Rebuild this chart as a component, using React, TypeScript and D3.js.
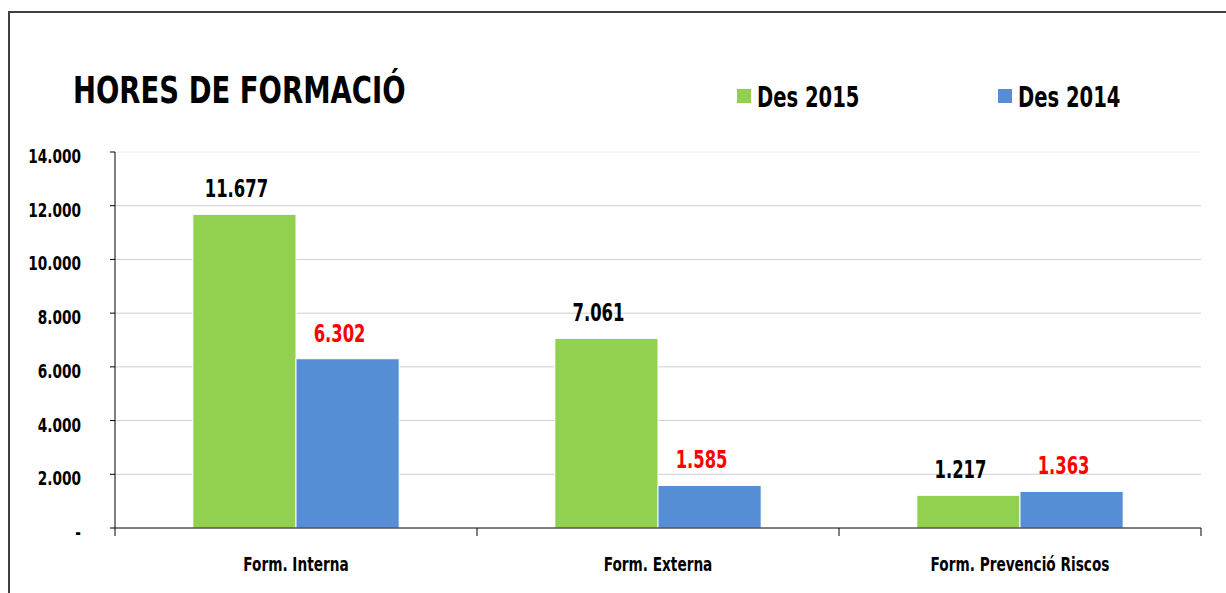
import React from 'react';
import * as d3 from 'd3';

// chart data
const categories = ['Form. Interna', 'Form. Externa', 'Form. Prevenció Riscos'];
const seriesNames = ['Des 2015', 'Des 2014'];
const values2015 = [11677, 7061, 1217];
const values2014 = [6302, 1585, 1363];
const yTicks = [0, 2000, 4000, 6000, 8000, 10000, 12000, 14000];
const yTickLabels = ['-', '2.000', '4.000', '6.000', '8.000', '10.000', '12.000', '14.000'];

const colors = ['#92D050', '#558ED5'];
const labelColors = ['#000000', '#FF0000'];
const FONT = '"Liberation Sans Narrow", "DejaVu Sans Condensed", Arial, sans-serif';

const W = 1226;
const H = 593;

const fmt = (v: number) => d3.format(',')(v).replace(/,/g, '.');

// bold text squeezed horizontally to mimic the narrow office font
const T = ({ x, y, size, sx = 0.76, anchor = 'start', fill = '#000', children }: any) => (
  <g transform={`translate(${x},${y}) scale(${sx},1)`}>
    <text textAnchor={anchor} fontFamily={FONT} fontWeight="bold" fontSize={size} fill={fill}>
      {children}
    </text>
  </g>
);

const App = () => {
  const x = d3.scaleBand<string>().domain(categories).range([115, 1201]).padding(0);
  const y = d3.scaleLinear().domain([0, 14000]).range([528, 152]);
  const groupW = x.bandwidth() * 0.57;
  const x1 = d3.scaleBand<string>().domain(seriesNames).range([0, groupW]).padding(0);
  const series = [values2015, values2014];

  return (
    <div style={{ position: 'fixed', left: 0, top: 0 }}>
      <svg width={W} height={H} style={{ display: 'block', background: '#fff' }}>
        {/* frame */}
        <path d={`M9,${H + 5}V12H${W + 5}`} fill="none" stroke="#404040" strokeWidth={2} />

        <T x={73} y={103} size={37} sx={0.826}>HORES DE FORMACIÓ</T>

        {/* legend */}
        {seriesNames.map((s, i) => (
          <g key={s} transform={`translate(${[737, 998][i]},0)`}>
            <rect x={0} y={89} width={14} height={14} fill={colors[i]} />
            <T x={20} y={107} size={29} sx={0.75}>{s}</T>
          </g>
        ))}

        {/* gridlines */}
        {yTicks.slice(1).map((t) => (
          <line key={t} x1={115} x2={1201} y1={y(t)} y2={y(t)} stroke={t === 14000 ? '#eeeeee' : '#d0d0d0'} strokeWidth={1} />
        ))}

        {/* bars */}
        {series.map((vals, si) =>
          vals.map((v, ci) => {
            const bx = x(categories[ci])! + (x.bandwidth() - groupW) / 2 + x1(seriesNames[si])!;
            return (
              <g key={`${si}-${ci}`}>
                <rect
                  x={bx}
                  y={y(v)}
                  width={x1.bandwidth()}
                  height={y(0) - y(v)}
                  fill={colors[si]}
                  stroke="#fff"
                  strokeWidth={1}
                />
                <T x={bx + x1.bandwidth() / 2 - 8} y={y(v) - 17} size={24} anchor="middle" fill={labelColors[si]}>
                  {fmt(v)}
                </T>
              </g>
            );
          })
        )}

        {/* y axis */}
        <line x1={115} x2={115} y1={152} y2={528} stroke="#000" strokeWidth={1} />
        {yTicks.map((t, i) => (
          <g key={t}>
            <line x1={110} x2={115} y1={y(t)} y2={y(t)} stroke="#000" />
            <T x={81} y={y(t) + 11} size={20} anchor="end">{yTickLabels[i]}</T>
          </g>
        ))}

        {/* x axis */}
        <line x1={115} x2={1201} y1={528} y2={528} stroke="#000" strokeWidth={1} />
        {[...categories.map((c) => x(c)!), 1201].map((px, i) => (
          <line key={i} x1={px} x2={px} y1={528} y2={536} stroke="#000" />
        ))}
        {categories.map((c) => (
          <T key={c} x={x(c)! + x.bandwidth() / 2} y={571} size={19} sx={0.8} anchor="middle">
            {c}
          </T>
        ))}
      </svg>
    </div>
  );
};

export default App;
